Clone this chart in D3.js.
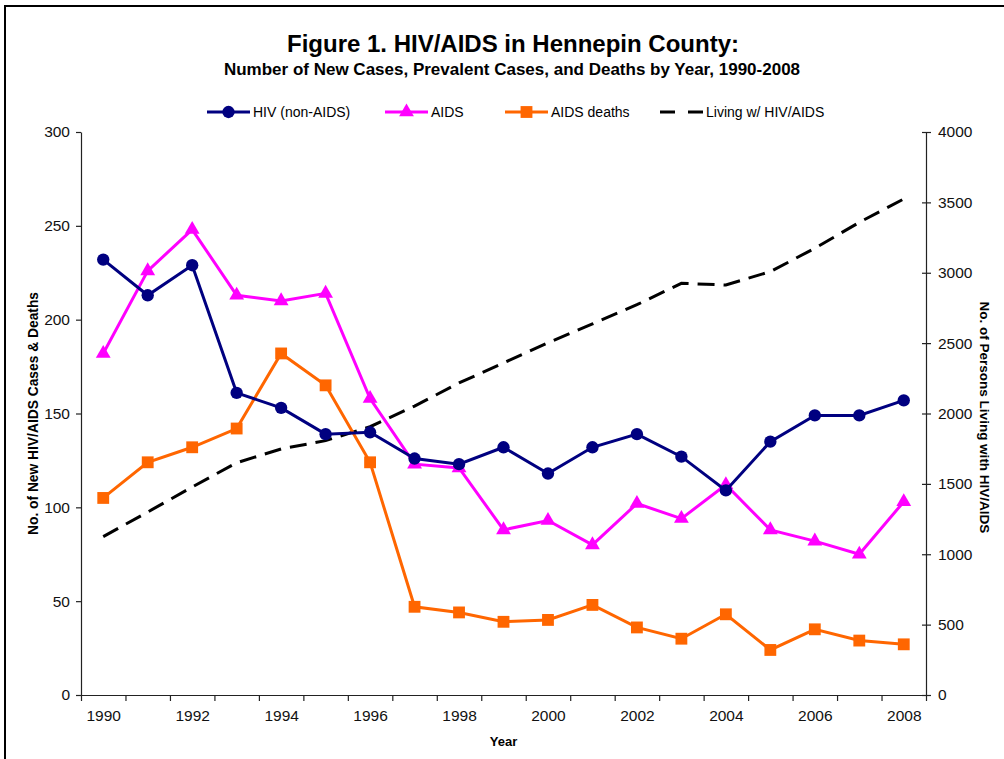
<!DOCTYPE html>
<html>
<head>
<meta charset="utf-8">
<script src="https://cdn.jsdelivr.net/npm/d3@7"></script>
<style>
	body { margin: 0; background: #fff; }
	svg { display: block; font-family: "Liberation Sans", Arial, sans-serif; }
	.axis path, .axis line { stroke: #222; stroke-width: 1.2; }
	.axis text { font-size: 15.5px; fill: #111; }
</style>
</head>
<body>
<div id="chart"></div>
<script>
// DATA
const years = d3.range(1990, 2009);
const yearLabels = [1990, 1992, 1994, 1996, 1998, 2000, 2002, 2004, 2006, 2008];
const hivNonAids = [232, 213, 229, 161, 153, 139, 140, 126, 123, 132, 118, 132, 139, 127, 109, 135, 149, 149, 157];
const aids = [182, 226, 248, 213, 210, 214, 158, 123, 121, 88, 93, 80, 102, 94, 112, 88, 82, 75, 103];
const aidsDeaths = [105, 124, 132, 142, 182, 165, 124, 47, 44, 39, 40, 48, 36, 30, 43, 24, 35, 29, 27];
const living = [1125, 1300, 1478, 1650, 1748, 1807, 1906, 2053, 2217, 2359, 2503, 2636, 2773, 2925, 2913, 3008, 3174, 3358, 3524];
const leftTicks = [0, 50, 100, 150, 200, 250, 300];
const rightTicks = [0, 500, 1000, 1500, 2000, 2500, 3000, 3500, 4000];
const legendNames = ["HIV (non-AIDS)", "AIDS", "AIDS deaths", "Living w/ HIV/AIDS"];


// CHART
function drawChart() {
	const w = 1004;
	const h = 759;
	const left = 81, right = 926, top = 132, bottom = 695;

	const svg = d3.select("#chart")
		.append("svg")
		.attr("width", w)
		.attr("height", h);

	// frame
	svg.append("rect")
		.attr("x", 5).attr("y", 6)
		.attr("width", 1100).attr("height", 900)
		.attr("fill", "none")
		.attr("stroke", "#000")
		.attr("stroke-width", 2);

	// scales
	const xScale = d3.scaleLinear()
		.domain([1989.5, 2008.5])
		.range([left, right]);
	const yLeft = d3.scaleLinear()
		.domain([0, 300])
		.range([bottom, top]);
	const yRight = d3.scaleLinear()
		.domain([0, 4000])
		.range([bottom, top]);

	// titles
	svg.append("text")
		.text("Figure 1. HIV/AIDS in Hennepin County:")
		.attr("x", 513).attr("y", 52)
		.attr("text-anchor", "middle")
		.style("font-size", "24px")
		.style("font-weight", "bold");
	svg.append("text")
		.text("Number of New Cases, Prevalent Cases, and Deaths by Year, 1990-2008")
		.attr("x", 512).attr("y", 75)
		.attr("text-anchor", "middle")
		.style("font-size", "17px")
		.style("font-weight", "bold");

	// x-axis: ticks between years, labels every other year
	svg.append("g")
		.attr("class", "axis")
		.attr("transform", `translate(0, ${bottom})`)
		.call(d3.axisBottom(xScale)
			.tickValues(d3.range(1989.5, 2009, 1))
			.tickSizeInner(6).tickSizeOuter(0)
			.tickFormat(""));
	svg.append("g")
		.attr("class", "axis")
		.attr("transform", `translate(0, ${bottom})`)
		.call(d3.axisBottom(xScale)
			.tickValues(yearLabels)
			.tickSize(0).tickPadding(15)
			.tickFormat(d3.format("d")))
		.select(".domain").remove();

	// left axis
	svg.append("g")
		.attr("class", "axis")
		.attr("transform", `translate(${left}, 0)`)
		.call(d3.axisLeft(yLeft)
			.tickValues(leftTicks)
			.tickSizeInner(5).tickSizeOuter(0)
			.tickPadding(6)
			.tickFormat(d3.format("d")));

	// right axis
	const rAxis = svg.append("g")
		.attr("class", "axis")
		.attr("transform", `translate(${right}, 0)`)
		.call(d3.axisRight(yRight)
			.tickValues(rightTicks)
			.tickSizeInner(5).tickSizeOuter(0)
			.tickPadding(7)
			.tickFormat(d3.format("d")));
	rAxis.selectAll(".tick line").attr("x1", -4);

	// axis labels
	svg.append("text")
		.text("Year")
		.attr("x", (left + right) / 2).attr("y", 746)
		.attr("text-anchor", "middle")
		.style("font-size", "13px")
		.style("font-weight", "bold");
	svg.append("text")
		.text("No. of New HIV/AIDS Cases & Deaths")
		.attr("transform", `translate(33, ${(top + bottom) / 2}) rotate(-90)`)
		.attr("text-anchor", "middle")
		.attr("dominant-baseline", "central")
		.style("font-size", "13.8px")
		.style("font-weight", "bold");
	svg.append("text")
		.text("No. of Persons Living with HIV/AIDS")
		.attr("transform", `translate(984, ${(top + bottom) / 2 + 4}) rotate(90)`)
		.attr("text-anchor", "middle")
		.attr("dominant-baseline", "central")
		.style("font-size", "13.5px")
		.style("font-weight", "bold");

	// series
	const series = [
		{ name: legendNames[0], values: hivNonAids, scale: yLeft, color: "#000080", symbol: d3.symbolCircle, size: 120 },
		{ name: legendNames[1], values: aids, scale: yLeft, color: "#FF00FF", symbol: d3.symbolTriangle, size: 95 },
		{ name: legendNames[2], values: aidsDeaths, scale: yLeft, color: "#FF6600", symbol: d3.symbolSquare, size: 140 },
		{ name: legendNames[3], values: living, scale: yRight, color: "#000", symbol: null, dash: "17,9" }
	];

	// draw dashed line first, then the others over it
	[series[3], series[2], series[1], series[0]].forEach(s => {
		const line = d3.line()
			.x((d, i) => xScale(years[i]))
			.y(d => s.scale(d));
		svg.append("path")
			.datum(s.values)
			.attr("d", line)
			.attr("fill", "none")
			.attr("stroke", s.color)
			.attr("stroke-width", 3)
			.attr("stroke-dasharray", s.dash || null);
		if (s.symbol) {
			svg.selectAll(null)
				.data(s.values)
				.enter()
				.append("path")
				.attr("d", d3.symbol().type(s.symbol).size(s.size))
				.attr("transform", (d, i) => `translate(${xScale(years[i])}, ${s.scale(d)})`)
				.attr("fill", s.color);
		}
	});

	// legend
	const legendX = [207, 385, 505, 660];
	const legendY = 112;
	series.forEach((s, i) => {
		const g = svg.append("g")
			.attr("transform", `translate(${legendX[i]}, ${legendY})`);
		g.append("line")
			.attr("x1", 0).attr("x2", 43)
			.attr("stroke", s.color)
			.attr("stroke-width", 3)
			.attr("stroke-dasharray", s.dash ? "15,13" : null);
		if (s.symbol) {
			g.append("path")
				.attr("d", d3.symbol().type(s.symbol).size(s.size))
				.attr("transform", "translate(21.5, 0)")
				.attr("fill", s.color);
		}
		g.append("text")
			.text(s.name)
			.attr("x", 46).attr("y", 5)
			.style("font-size", "14px");
	});
}

document.addEventListener('DOMContentLoaded', () => {
	drawChart();
});
</script>
</body>
</html>
